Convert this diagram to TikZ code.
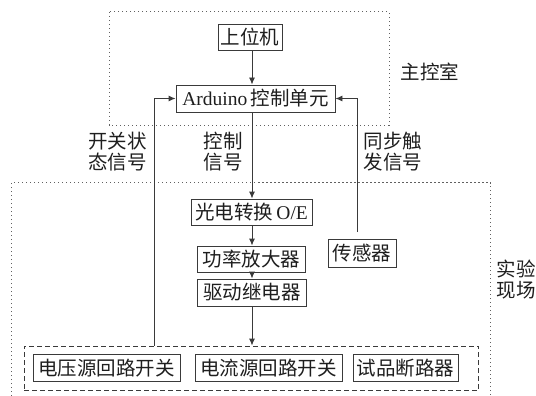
\documentclass[tikz,border=0pt]{standalone}
\usepackage{fontspec}
\setmainfont{Liberation Serif}
\newfontfamily\cjk{Noto Sans CJK SC}
\usetikzlibrary{arrows.meta,positioning,calc}
\definecolor{ln}{HTML}{3A3A3A}
\definecolor{tx}{HTML}{1E1E1E}
\tikzset{
  blk/.style={draw=ln, line width=0.9pt, minimum height=26pt, inner sep=0pt, text=tx,
              font=\fontsize{19.5}{21}\selectfont\cjk},
  conn/.style={draw=ln, line width=0.9pt},
  arr/.style={conn, -{Latex[length=7pt,width=6pt]}},
  zone/.style={draw=ln!80, line width=1pt, dash pattern=on 1.3pt off 2.7pt},
  grp/.style={draw=ln, line width=0.9pt, dash pattern=on 5pt off 3pt},
  lbl/.style={text=tx, inner sep=0pt, font=\fontsize{19.5}{21}\selectfont\cjk}
}
\begin{document}
\begin{tikzpicture}[x=1pt,y=-1pt]
\useasboundingbox (0,0) rectangle (536,396);
% zones
\draw[zone] (109,12) rectangle (389,125);
\draw[zone] (11.6,420) -- (11.6,182.6) -- (490.6,182.6) -- (490.6,420);
\node[lbl] (zk) at (430,72) {主控室};
\node[lbl, align=center] (sy) at (516,280) {实验\\现场};
% boxes
\node[blk, minimum width=64pt] (pc) at (250,37) {上位机};
\node[blk, minimum width=159pt, minimum height=27pt] (ard) at (255.5,98.5) {{\rmfamily Arduino}\,控制单元};
\node[blk, minimum width=121pt] (oe) at (251.5,212) {光电转换\,{\rmfamily O/E}};
\node[blk, minimum width=108pt] (amp) at (251.5,259) {功率放大器};
\node[blk, minimum width=109pt, minimum height=27pt] (rel) at (252,292.5) {驱动继电器};
\node[blk, minimum width=68pt, minimum height=28pt] (sen) at (362,253.5) {传感器};
\node[blk, minimum width=147pt, minimum height=27pt] (vs) at (106.5,368) {电压源回路开关};
\node[blk, minimum width=147pt, minimum height=27pt] (is) at (268.5,368) {电流源回路开关};
\node[blk, minimum width=105pt, minimum height=27pt] (cb) at (405.5,368) {试品断路器};
% dashed group
\node[grp, minimum width=454.6pt, minimum height=44.5pt, inner sep=0pt] (grp) at (251.3,368.25) {};
% column coordinates
\coordinate (cx) at (252,0);
\coordinate (lx) at (154,0);
\coordinate (rx) at (357,0);
\coordinate (senTop) at (357,232);
% labels
\node[lbl, align=right, anchor=east] (l1) at (147,152) {开关状\\态信号};
\node[lbl, align=center] (l2) at (223,152) {控制\\信号};
\node[lbl, align=center] (l3) at (393,152) {同步触\\发信号};
% connectors
\draw[arr] (pc.south -| cx) -- (ard.north -| cx);
\draw[arr] (ard.south -| cx) -- (oe.north -| cx);
\draw[arr] (oe.south -| cx) -- (amp.north -| cx);
\draw[arr] (amp.south -| cx) -- (rel.north -| cx);
\draw[arr] (rel.south -| cx) -- (grp.north -| cx);
\draw[arr] (grp.north -| lx) |- (ard.west);
\draw[arr] (senTop) |- (ard.east);
\end{tikzpicture}
\end{document}
